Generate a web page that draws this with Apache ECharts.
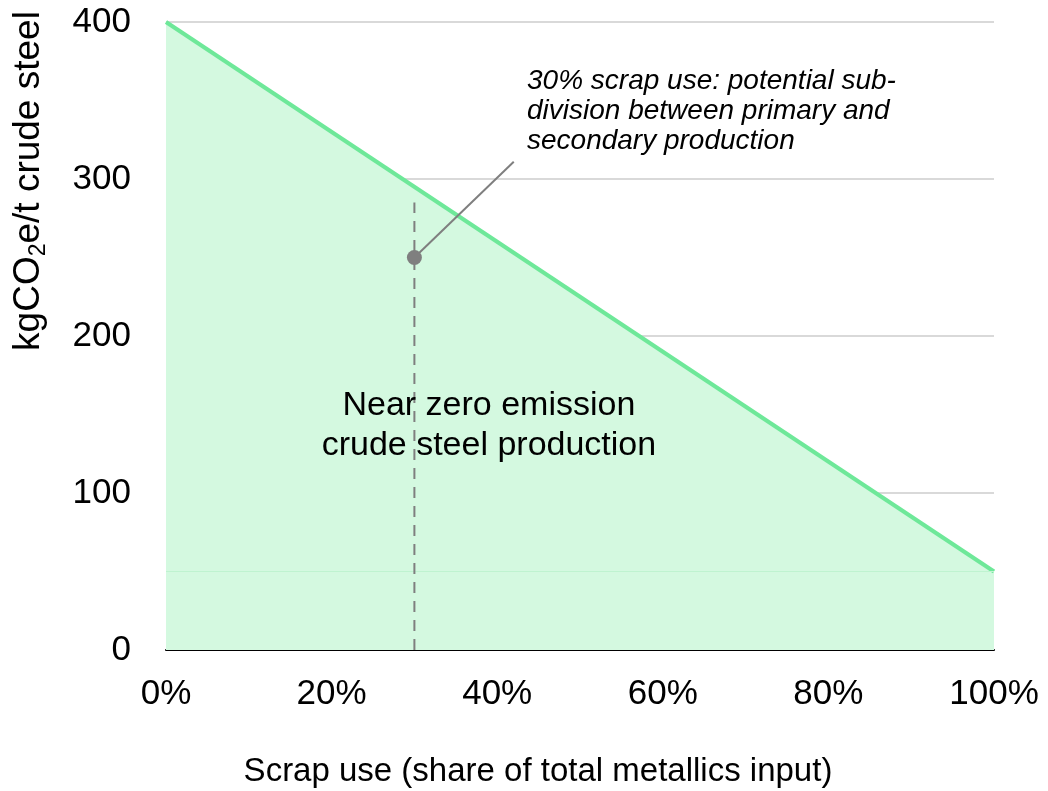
<!DOCTYPE html>
<html>
<head>
<meta charset="utf-8">
<script src="https://cdn.jsdelivr.net/npm/echarts@6/dist/echarts.min.js"></script>
<style>html,body{margin:0;padding:0;background:#fff}#c{width:1048px;height:791px}</style>
</head>
<body>
<div id="c"></div>
<script>
// Data
const scrapShare = [0, 100];              // % of total metallics input
const emissions = [400, 50];              // kgCO2e/t crude steel
const baseLevel = [50, 50];               // floor of emissions at 100% scrap
const dividerX = [30, 30];                // 30% scrap use line
const dividerY = [0, 285];
const markerPoint = [30, 250];
const leaderX = [30, 42];
const leaderY = [250, 311];
const xTicks = [0, 20, 40, 60, 80, 100];
const yTicks = [0, 100, 200, 300, 400];
const annotationText = '30% scrap use: potential sub-\ndivision between primary and\nsecondary production';
const annotationPos = [43.6, 343];
const centerText = 'Near zero emission\ncrude steel production';
const centerPos = [39, 143];

const FONT = '"Liberation Sans", Arial, sans-serif';
const chart = echarts.init(document.getElementById('c'));
chart.setOption({
  animation: false,
  grid: { left: 166, right: 54, top: 22, bottom: 141, containLabel: false, outerBoundsMode: 'none' },
  xAxis: {
    type: 'value', min: xTicks[0], max: xTicks[xTicks.length - 1], interval: 20,
    name: 'Scrap use (share of total metallics input)',
    nameLocation: 'middle', nameGap: 105,
    nameTextStyle: { fontSize: 33, color: '#000', fontFamily: FONT, padding: [0, 84, 0, 0] },
    axisLine: { show: true, lineStyle: { color: '#000', width: 2 } },
    axisTick: { show: false },
    splitLine: { show: false },
    axisLabel: { fontSize: 35, color: '#000', fontFamily: FONT, margin: 27, formatter: '{value}%' }
  },
  yAxis: {
    type: 'value', min: yTicks[0], max: yTicks[yTicks.length - 1], interval: 100,
    name: '{a|kgCO}{s|2}{a|e/t crude steel}',
    nameLocation: 'middle', nameGap: 116, nameRotate: 90,
    nameTextStyle: {
      fontFamily: FONT, color: '#000', padding: [0, 0, 0, 310],
      rich: {
        a: { fontSize: 37, color: '#000', fontFamily: FONT, lineHeight: 42 },
        s: { fontSize: 23, color: '#000', fontFamily: FONT, lineHeight: 16, verticalAlign: 'bottom' }
      }
    },
    axisLine: { show: false },
    axisTick: { show: false },
    splitLine: { show: true, lineStyle: { color: '#d9d9d9', width: 2 } },
    axisLabel: { fontSize: 35, color: '#000', fontFamily: FONT, margin: 35 }
  },
  series: [
    {
      type: 'line', z: 2,
      data: scrapShare.map((x, i) => [x, emissions[i]]),
      symbol: 'none',
      lineStyle: { color: '#6ee899', width: 4 },
      areaStyle: { color: '#d4f9e0', opacity: 1 }
    },
    {
      type: 'line', z: 3,
      data: scrapShare.map((x, i) => [x, baseLevel[i]]),
      symbol: 'none',
      lineStyle: { color: '#bff3d0', width: 1 }
    },
    {
      type: 'line', z: 4,
      data: dividerX.map((x, i) => [x, dividerY[i]]),
      symbol: 'none',
      lineStyle: { color: '#7f7f7f', width: 2, type: [11, 8] }
    },
    {
      type: 'line', z: 5,
      data: leaderX.map((x, i) => [x, leaderY[i]]),
      symbol: 'none',
      lineStyle: { color: '#7f7f7f', width: 2 }
    },
    {
      type: 'scatter', z: 6,
      data: [markerPoint],
      symbolSize: 15,
      itemStyle: { color: '#7f7f7f', opacity: 1 }
    },
    {
      type: 'scatter', z: 7,
      data: [annotationPos],
      symbolSize: 0,
      itemStyle: { opacity: 1 },
      label: {
        show: true, position: 'right', distance: 0,
        formatter: annotationText,
        fontSize: 28, fontStyle: 'italic', lineHeight: 30, color: '#000', fontFamily: FONT
      }
    },
    {
      type: 'scatter', z: 7,
      data: [centerPos],
      symbolSize: 0,
      itemStyle: { opacity: 1 },
      label: {
        show: true, position: 'inside',
        formatter: centerText, align: 'center',
        fontSize: 34, lineHeight: 40, color: '#000', fontFamily: FONT
      }
    }
  ]
});
</script>
</body>
</html>
